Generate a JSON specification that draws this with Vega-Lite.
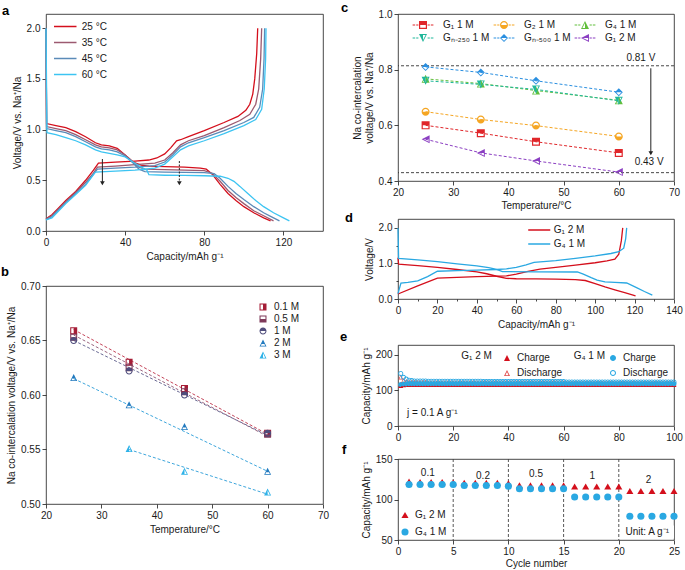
{
"$schema": "https://vega.github.io/schema/vega-lite/v6.json",
"background": "white",
"padding": {"left": 0, "top": 1, "right": 2, "bottom": 0},
"config": {
 "font": "Liberation Sans",
 "view": {"stroke": "#1a1a1a", "strokeWidth": 0.8},
 "axis": {"grid": false, "domain": false, "tickColor": "#1a1a1a", "tickSize": 4, "tickWidth": 0.8, "labelFontSize": 10, "titleFontSize": 10, "titleFontWeight": "normal", "labelColor": "#1a1a1a", "titleColor": "#1a1a1a", "labelPadding": 2, "titlePadding": 4, "labelFlush": false, "labelOverlap": false, "labelFont": "Liberation Sans", "titleFont": "Liberation Sans"},
 "legend": {"labelFontSize": 10, "labelFont": "Liberation Sans", "labelColor": "#1a1a1a", "orient": "none"},
 "title": {"fontSize": 13, "fontWeight": "bold", "anchor": "start", "frame": "group", "color": "#000", "font": "Liberation Sans"}
},
"datasets": {
 "a": [
  {"t":"25 °C","k":"d","x":0,"y":2.0},{"t":"25 °C","k":"d","x":0.3,"y":1.06},{"t":"25 °C","k":"d","x":5,"y":1.04},{"t":"25 °C","k":"d","x":10,"y":1.02},{"t":"25 °C","k":"d","x":15,"y":0.98},{"t":"25 °C","k":"d","x":20,"y":0.93},{"t":"25 °C","k":"d","x":25,"y":0.87},{"t":"25 °C","k":"d","x":28,"y":0.85},{"t":"25 °C","k":"d","x":32,"y":0.84},{"t":"25 °C","k":"d","x":36,"y":0.815},{"t":"25 °C","k":"d","x":40,"y":0.75},{"t":"25 °C","k":"d","x":44,"y":0.68},{"t":"25 °C","k":"d","x":48,"y":0.65},{"t":"25 °C","k":"d","x":52,"y":0.64},{"t":"25 °C","k":"d","x":60,"y":0.635},{"t":"25 °C","k":"d","x":70,"y":0.63},{"t":"25 °C","k":"d","x":78,"y":0.62},{"t":"25 °C","k":"d","x":81,"y":0.61},{"t":"25 °C","k":"d","x":84,"y":0.56},{"t":"25 °C","k":"d","x":88,"y":0.46},{"t":"25 °C","k":"d","x":92,"y":0.37},{"t":"25 °C","k":"d","x":96,"y":0.30},{"t":"25 °C","k":"d","x":100,"y":0.24},{"t":"25 °C","k":"d","x":105,"y":0.18},{"t":"25 °C","k":"d","x":110,"y":0.13},{"t":"25 °C","k":"d","x":113.5,"y":0.10},
  {"t":"25 °C","k":"c","x":0,"y":0.12},{"t":"25 °C","k":"c","x":3,"y":0.16},{"t":"25 °C","k":"c","x":6,"y":0.22},{"t":"25 °C","k":"c","x":10,"y":0.30},{"t":"25 °C","k":"c","x":15,"y":0.39},{"t":"25 °C","k":"c","x":20,"y":0.50},{"t":"25 °C","k":"c","x":24,"y":0.60},{"t":"25 °C","k":"c","x":26.5,"y":0.67},{"t":"25 °C","k":"c","x":35,"y":0.68},{"t":"25 °C","k":"c","x":45,"y":0.69},{"t":"25 °C","k":"c","x":52,"y":0.70},{"t":"25 °C","k":"c","x":56,"y":0.72},{"t":"25 °C","k":"c","x":60,"y":0.76},{"t":"25 °C","k":"c","x":63,"y":0.82},{"t":"25 °C","k":"c","x":66,"y":0.89},{"t":"25 °C","k":"c","x":68,"y":0.90},{"t":"25 °C","k":"c","x":72,"y":0.93},{"t":"25 °C","k":"c","x":80,"y":0.99},{"t":"25 °C","k":"c","x":90,"y":1.07},{"t":"25 °C","k":"c","x":97,"y":1.13},{"t":"25 °C","k":"c","x":101,"y":1.19},{"t":"25 °C","k":"c","x":103,"y":1.25},{"t":"25 °C","k":"c","x":104.5,"y":1.35},{"t":"25 °C","k":"c","x":105.5,"y":1.5},{"t":"25 °C","k":"c","x":106.5,"y":1.75},{"t":"25 °C","k":"c","x":107,"y":2.0},
  {"t":"35 °C","k":"d","x":0,"y":2.0},{"t":"35 °C","k":"d","x":0.3,"y":1.03},{"t":"35 °C","k":"d","x":5,"y":1.01},{"t":"35 °C","k":"d","x":10,"y":0.99},{"t":"35 °C","k":"d","x":15,"y":0.95},{"t":"35 °C","k":"d","x":20,"y":0.90},{"t":"35 °C","k":"d","x":25,"y":0.85},{"t":"35 °C","k":"d","x":28,"y":0.83},{"t":"35 °C","k":"d","x":32,"y":0.82},{"t":"35 °C","k":"d","x":36,"y":0.80},{"t":"35 °C","k":"d","x":40,"y":0.75},{"t":"35 °C","k":"d","x":44,"y":0.68},{"t":"35 °C","k":"d","x":47,"y":0.63},{"t":"35 °C","k":"d","x":50,"y":0.61},{"t":"35 °C","k":"d","x":60,"y":0.605},{"t":"35 °C","k":"d","x":70,"y":0.60},{"t":"35 °C","k":"d","x":80,"y":0.595},{"t":"35 °C","k":"d","x":84,"y":0.57},{"t":"35 °C","k":"d","x":88,"y":0.49},{"t":"35 °C","k":"d","x":92,"y":0.40},{"t":"35 °C","k":"d","x":96,"y":0.33},{"t":"35 °C","k":"d","x":100,"y":0.27},{"t":"35 °C","k":"d","x":105,"y":0.20},{"t":"35 °C","k":"d","x":110,"y":0.15},{"t":"35 °C","k":"d","x":115,"y":0.10},
  {"t":"35 °C","k":"c","x":0,"y":0.12},{"t":"35 °C","k":"c","x":3,"y":0.15},{"t":"35 °C","k":"c","x":6,"y":0.21},{"t":"35 °C","k":"c","x":10,"y":0.29},{"t":"35 °C","k":"c","x":15,"y":0.38},{"t":"35 °C","k":"c","x":20,"y":0.48},{"t":"35 °C","k":"c","x":24,"y":0.57},{"t":"35 °C","k":"c","x":26,"y":0.63},{"t":"35 °C","k":"c","x":35,"y":0.64},{"t":"35 °C","k":"c","x":45,"y":0.655},{"t":"35 °C","k":"c","x":55,"y":0.67},{"t":"35 °C","k":"c","x":60,"y":0.70},{"t":"35 °C","k":"c","x":64,"y":0.77},{"t":"35 °C","k":"c","x":68,"y":0.85},{"t":"35 °C","k":"c","x":72,"y":0.89},{"t":"35 °C","k":"c","x":80,"y":0.94},{"t":"35 °C","k":"c","x":90,"y":1.02},{"t":"35 °C","k":"c","x":98,"y":1.09},{"t":"35 °C","k":"c","x":103,"y":1.15},{"t":"35 °C","k":"c","x":106,"y":1.25},{"t":"35 °C","k":"c","x":107.5,"y":1.4},{"t":"35 °C","k":"c","x":108.5,"y":1.7},{"t":"35 °C","k":"c","x":109,"y":2.0},
  {"t":"45 °C","k":"d","x":0,"y":2.0},{"t":"45 °C","k":"d","x":0.3,"y":1.01},{"t":"45 °C","k":"d","x":5,"y":0.99},{"t":"45 °C","k":"d","x":10,"y":0.97},{"t":"45 °C","k":"d","x":15,"y":0.93},{"t":"45 °C","k":"d","x":20,"y":0.88},{"t":"45 °C","k":"d","x":25,"y":0.83},{"t":"45 °C","k":"d","x":28,"y":0.81},{"t":"45 °C","k":"d","x":32,"y":0.80},{"t":"45 °C","k":"d","x":36,"y":0.78},{"t":"45 °C","k":"d","x":40,"y":0.74},{"t":"45 °C","k":"d","x":44,"y":0.67},{"t":"45 °C","k":"d","x":47,"y":0.61},{"t":"45 °C","k":"d","x":50,"y":0.585},{"t":"45 °C","k":"d","x":60,"y":0.58},{"t":"45 °C","k":"d","x":70,"y":0.578},{"t":"45 °C","k":"d","x":80,"y":0.575},{"t":"45 °C","k":"d","x":85,"y":0.565},{"t":"45 °C","k":"d","x":88,"y":0.52},{"t":"45 °C","k":"d","x":92,"y":0.44},{"t":"45 °C","k":"d","x":96,"y":0.37},{"t":"45 °C","k":"d","x":100,"y":0.31},{"t":"45 °C","k":"d","x":105,"y":0.24},{"t":"45 °C","k":"d","x":110,"y":0.18},{"t":"45 °C","k":"d","x":114,"y":0.14},{"t":"45 °C","k":"d","x":118,"y":0.10},
  {"t":"45 °C","k":"c","x":0,"y":0.11},{"t":"45 °C","k":"c","x":3,"y":0.14},{"t":"45 °C","k":"c","x":6,"y":0.20},{"t":"45 °C","k":"c","x":10,"y":0.28},{"t":"45 °C","k":"c","x":15,"y":0.37},{"t":"45 °C","k":"c","x":20,"y":0.46},{"t":"45 °C","k":"c","x":24,"y":0.56},{"t":"45 °C","k":"c","x":26,"y":0.61},{"t":"45 °C","k":"c","x":35,"y":0.62},{"t":"45 °C","k":"c","x":45,"y":0.63},{"t":"45 °C","k":"c","x":55,"y":0.645},{"t":"45 °C","k":"c","x":60,"y":0.68},{"t":"45 °C","k":"c","x":64,"y":0.75},{"t":"45 °C","k":"c","x":68,"y":0.83},{"t":"45 °C","k":"c","x":72,"y":0.87},{"t":"45 °C","k":"c","x":80,"y":0.92},{"t":"45 °C","k":"c","x":90,"y":0.99},{"t":"45 °C","k":"c","x":100,"y":1.07},{"t":"45 °C","k":"c","x":105,"y":1.12},{"t":"45 °C","k":"c","x":108,"y":1.22},{"t":"45 °C","k":"c","x":109.5,"y":1.4},{"t":"45 °C","k":"c","x":110.2,"y":1.7},{"t":"45 °C","k":"c","x":110.5,"y":2.0},
  {"t":"60 °C","k":"d","x":0,"y":2.0},{"t":"60 °C","k":"d","x":0.5,"y":0.97},{"t":"60 °C","k":"d","x":5,"y":0.95},{"t":"60 °C","k":"d","x":10,"y":0.92},{"t":"60 °C","k":"d","x":15,"y":0.89},{"t":"60 °C","k":"d","x":20,"y":0.85},{"t":"60 °C","k":"d","x":25,"y":0.80},{"t":"60 °C","k":"d","x":28,"y":0.78},{"t":"60 °C","k":"d","x":32,"y":0.765},{"t":"60 °C","k":"d","x":36,"y":0.75},{"t":"60 °C","k":"d","x":40,"y":0.73},{"t":"60 °C","k":"d","x":44,"y":0.68},{"t":"60 °C","k":"d","x":48,"y":0.63},{"t":"60 °C","k":"d","x":51,"y":0.60},{"t":"60 °C","k":"d","x":52,"y":0.555},{"t":"60 °C","k":"d","x":60,"y":0.55},{"t":"60 °C","k":"d","x":70,"y":0.548},{"t":"60 °C","k":"d","x":80,"y":0.545},{"t":"60 °C","k":"d","x":88,"y":0.54},{"t":"60 °C","k":"d","x":92,"y":0.52},{"t":"60 °C","k":"d","x":95,"y":0.49},{"t":"60 °C","k":"d","x":98,"y":0.44},{"t":"60 °C","k":"d","x":102,"y":0.37},{"t":"60 °C","k":"d","x":106,"y":0.30},{"t":"60 °C","k":"d","x":110,"y":0.24},{"t":"60 °C","k":"d","x":115,"y":0.18},{"t":"60 °C","k":"d","x":120,"y":0.13},{"t":"60 °C","k":"d","x":123,"y":0.10},
  {"t":"60 °C","k":"c","x":0,"y":0.11},{"t":"60 °C","k":"c","x":3,"y":0.13},{"t":"60 °C","k":"c","x":6,"y":0.19},{"t":"60 °C","k":"c","x":10,"y":0.27},{"t":"60 °C","k":"c","x":15,"y":0.36},{"t":"60 °C","k":"c","x":20,"y":0.45},{"t":"60 °C","k":"c","x":23,"y":0.53},{"t":"60 °C","k":"c","x":25,"y":0.58},{"t":"60 °C","k":"c","x":35,"y":0.59},{"t":"60 °C","k":"c","x":45,"y":0.60},{"t":"60 °C","k":"c","x":55,"y":0.62},{"t":"60 °C","k":"c","x":60,"y":0.66},{"t":"60 °C","k":"c","x":64,"y":0.73},{"t":"60 °C","k":"c","x":68,"y":0.80},{"t":"60 °C","k":"c","x":72,"y":0.84},{"t":"60 °C","k":"c","x":80,"y":0.89},{"t":"60 °C","k":"c","x":90,"y":0.96},{"t":"60 °C","k":"c","x":100,"y":1.04},{"t":"60 °C","k":"c","x":106,"y":1.10},{"t":"60 °C","k":"c","x":109,"y":1.2},{"t":"60 °C","k":"c","x":110.3,"y":1.4},{"t":"60 °C","k":"c","x":111,"y":1.7},{"t":"60 °C","k":"c","x":111.2,"y":2.0}
 ],
 "aArrow": [{"x":28.5,"y1":0.71,"y2":0.47,"d":"s"},{"x":67.4,"y1":0.69,"y2":0.47,"d":"d"}],
 "b": [
  {"s":"0.1 M","x":25,"y":0.659},{"s":"0.1 M","x":35,"y":0.630},{"s":"0.1 M","x":45,"y":0.606},{"s":"0.1 M","x":60,"y":0.565},
  {"s":"0.5 M","x":25,"y":0.653},{"s":"0.5 M","x":35,"y":0.625},{"s":"0.5 M","x":45,"y":0.603},{"s":"0.5 M","x":60,"y":0.564},
  {"s":"1 M","x":25,"y":0.650},{"s":"1 M","x":35,"y":0.622},{"s":"1 M","x":45,"y":0.600},{"s":"1 M","x":60,"y":0.565},
  {"s":"2 M","x":25,"y":0.616},{"s":"2 M","x":35,"y":0.591},{"s":"2 M","x":45,"y":0.571},{"s":"2 M","x":60,"y":0.530},
  {"s":"3 M","x":35,"y":0.551},{"s":"3 M","x":45,"y":0.530},{"s":"3 M","x":60,"y":0.511}
 ],
 "bFit": [
  {"g":"0.1 M","x":25,"y":0.660},{"g":"0.1 M","x":60,"y":0.564},
  {"g":"0.5 M","x":25,"y":0.655},{"g":"0.5 M","x":60,"y":0.562},
  {"g":"1 M","x":25,"y":0.650},{"g":"1 M","x":60,"y":0.563},
  {"g":"2 M","x":25,"y":0.615},{"g":"2 M","x":60,"y":0.530},
  {"g":"3 M","x":35,"y":0.550},{"g":"3 M","x":60,"y":0.509}
 ],
 "c": [
  {"s":"G₁ 1 M","x":25,"y":0.600},{"s":"G₁ 1 M","x":35,"y":0.572},{"s":"G₁ 1 M","x":45,"y":0.541},{"s":"G₁ 1 M","x":60,"y":0.501},
  {"s":"G₂ 1 M","x":25,"y":0.649},{"s":"G₂ 1 M","x":35,"y":0.621},{"s":"G₂ 1 M","x":45,"y":0.599},{"s":"G₂ 1 M","x":60,"y":0.560},
  {"s":"G₄ 1 M","x":25,"y":0.767},{"s":"G₄ 1 M","x":35,"y":0.750},{"s":"G₄ 1 M","x":45,"y":0.725},{"s":"G₄ 1 M","x":60,"y":0.690},
  {"s":"Gₙ₋₂₅₀ 1 M","x":25,"y":0.760},{"s":"Gₙ₋₂₅₀ 1 M","x":35,"y":0.747},{"s":"Gₙ₋₂₅₀ 1 M","x":45,"y":0.729},{"s":"Gₙ₋₂₅₀ 1 M","x":60,"y":0.688},
  {"s":"Gₙ₋₅₀₀ 1 M","x":25,"y":0.810},{"s":"Gₙ₋₅₀₀ 1 M","x":35,"y":0.790},{"s":"Gₙ₋₅₀₀ 1 M","x":45,"y":0.760},{"s":"Gₙ₋₅₀₀ 1 M","x":60,"y":0.719},
  {"s":"G₁ 2 M","x":25,"y":0.550},{"s":"G₁ 2 M","x":35,"y":0.501},{"s":"G₁ 2 M","x":45,"y":0.472},{"s":"G₁ 2 M","x":60,"y":0.432}
 ],
 "cLine": [
  {"g":"G₁ 1 M","x":25,"y":0.600},{"g":"G₁ 1 M","x":35,"y":0.572},{"g":"G₁ 1 M","x":45,"y":0.541},{"g":"G₁ 1 M","x":60,"y":0.501},
  {"g":"G₂ 1 M","x":25,"y":0.649},{"g":"G₂ 1 M","x":35,"y":0.621},{"g":"G₂ 1 M","x":45,"y":0.599},{"g":"G₂ 1 M","x":60,"y":0.560},
  {"g":"G₄ 1 M","x":25,"y":0.767},{"g":"G₄ 1 M","x":35,"y":0.750},{"g":"G₄ 1 M","x":45,"y":0.725},{"g":"G₄ 1 M","x":60,"y":0.690},
  {"g":"Gₙ₋₂₅₀ 1 M","x":25,"y":0.760},{"g":"Gₙ₋₂₅₀ 1 M","x":35,"y":0.747},{"g":"Gₙ₋₂₅₀ 1 M","x":45,"y":0.729},{"g":"Gₙ₋₂₅₀ 1 M","x":60,"y":0.688},
  {"g":"Gₙ₋₅₀₀ 1 M","x":25,"y":0.810},{"g":"Gₙ₋₅₀₀ 1 M","x":35,"y":0.790},{"g":"Gₙ₋₅₀₀ 1 M","x":45,"y":0.760},{"g":"Gₙ₋₅₀₀ 1 M","x":60,"y":0.719},
  {"g":"G₁ 2 M","x":25,"y":0.550},{"g":"G₁ 2 M","x":35,"y":0.501},{"g":"G₁ 2 M","x":45,"y":0.472},{"g":"G₁ 2 M","x":60,"y":0.432}
 ],
 "cRef": [{"y":0.814},{"y":0.430}],
 "cText": [{"x":64,"y":0.842,"t":"0.81 V"},{"x":65.5,"y":0.468,"t":"0.43 V"}],
 "cArrow": [{"x":65.8,"y1":0.805,"y2":0.50}],
 "d": [
  {"s":"G₁ 2 M","k":"d","x":0,"y":1.16},{"s":"G₁ 2 M","k":"d","x":0.3,"y":0.98},{"s":"G₁ 2 M","k":"d","x":5,"y":0.96},{"s":"G₁ 2 M","k":"d","x":10,"y":0.94},{"s":"G₁ 2 M","k":"d","x":20,"y":0.89},{"s":"G₁ 2 M","k":"d","x":30,"y":0.83},{"s":"G₁ 2 M","k":"d","x":40,"y":0.76},{"s":"G₁ 2 M","k":"d","x":45,"y":0.71},{"s":"G₁ 2 M","k":"d","x":50,"y":0.64},{"s":"G₁ 2 M","k":"d","x":55,"y":0.58},{"s":"G₁ 2 M","k":"d","x":60,"y":0.57},{"s":"G₁ 2 M","k":"d","x":70,"y":0.565},{"s":"G₁ 2 M","k":"d","x":80,"y":0.56},{"s":"G₁ 2 M","k":"d","x":90,"y":0.545},{"s":"G₁ 2 M","k":"d","x":95,"y":0.52},{"s":"G₁ 2 M","k":"d","x":100,"y":0.43},{"s":"G₁ 2 M","k":"d","x":105,"y":0.34},{"s":"G₁ 2 M","k":"d","x":110,"y":0.26},{"s":"G₁ 2 M","k":"d","x":115,"y":0.18},{"s":"G₁ 2 M","k":"d","x":120.5,"y":0.09},
  {"s":"G₁ 2 M","k":"c","x":0,"y":0.14},{"s":"G₁ 2 M","k":"c","x":10,"y":0.37},{"s":"G₁ 2 M","k":"c","x":20,"y":0.59},{"s":"G₁ 2 M","k":"c","x":30,"y":0.61},{"s":"G₁ 2 M","k":"c","x":40,"y":0.63},{"s":"G₁ 2 M","k":"c","x":55,"y":0.65},{"s":"G₁ 2 M","k":"c","x":60,"y":0.70},{"s":"G₁ 2 M","k":"c","x":66,"y":0.78},{"s":"G₁ 2 M","k":"c","x":72,"y":0.84},{"s":"G₁ 2 M","k":"c","x":80,"y":0.89},{"s":"G₁ 2 M","k":"c","x":90,"y":0.95},{"s":"G₁ 2 M","k":"c","x":100,"y":1.02},{"s":"G₁ 2 M","k":"c","x":106,"y":1.07},{"s":"G₁ 2 M","k":"c","x":110,"y":1.12},{"s":"G₁ 2 M","k":"c","x":112,"y":1.26},{"s":"G₁ 2 M","k":"c","x":113.3,"y":1.64},{"s":"G₁ 2 M","k":"c","x":114,"y":2.0},
  {"s":"G₄ 1 M","k":"d","x":0,"y":2.0},{"s":"G₄ 1 M","k":"d","x":0.3,"y":1.14},{"s":"G₄ 1 M","k":"d","x":10,"y":1.10},{"s":"G₄ 1 M","k":"d","x":20,"y":1.05},{"s":"G₄ 1 M","k":"d","x":30,"y":0.99},{"s":"G₄ 1 M","k":"d","x":40,"y":0.93},{"s":"G₄ 1 M","k":"d","x":46,"y":0.88},{"s":"G₄ 1 M","k":"d","x":50,"y":0.83},{"s":"G₄ 1 M","k":"d","x":53,"y":0.77},{"s":"G₄ 1 M","k":"d","x":70,"y":0.765},{"s":"G₄ 1 M","k":"d","x":91,"y":0.76},{"s":"G₄ 1 M","k":"d","x":94,"y":0.70},{"s":"G₄ 1 M","k":"d","x":98,"y":0.60},{"s":"G₄ 1 M","k":"d","x":101,"y":0.53},{"s":"G₄ 1 M","k":"d","x":105,"y":0.48},{"s":"G₄ 1 M","k":"d","x":110,"y":0.465},{"s":"G₄ 1 M","k":"d","x":116,"y":0.45},{"s":"G₄ 1 M","k":"d","x":121,"y":0.32},{"s":"G₄ 1 M","k":"d","x":125,"y":0.21},{"s":"G₄ 1 M","k":"d","x":129,"y":0.11},
  {"s":"G₄ 1 M","k":"c","x":0,"y":0.15},{"s":"G₄ 1 M","k":"c","x":1.5,"y":0.45},{"s":"G₄ 1 M","k":"c","x":5,"y":0.47},{"s":"G₄ 1 M","k":"c","x":10,"y":0.51},{"s":"G₄ 1 M","k":"c","x":15,"y":0.63},{"s":"G₄ 1 M","k":"c","x":20,"y":0.78},{"s":"G₄ 1 M","k":"c","x":30,"y":0.80},{"s":"G₄ 1 M","k":"c","x":40,"y":0.81},{"s":"G₄ 1 M","k":"c","x":50,"y":0.83},{"s":"G₄ 1 M","k":"c","x":55,"y":0.85},{"s":"G₄ 1 M","k":"c","x":60,"y":0.89},{"s":"G₄ 1 M","k":"c","x":65,"y":0.96},{"s":"G₄ 1 M","k":"c","x":69,"y":1.03},{"s":"G₄ 1 M","k":"c","x":80,"y":1.08},{"s":"G₄ 1 M","k":"c","x":90,"y":1.14},{"s":"G₄ 1 M","k":"c","x":100,"y":1.21},{"s":"G₄ 1 M","k":"c","x":108,"y":1.28},{"s":"G₄ 1 M","k":"c","x":112,"y":1.33},{"s":"G₄ 1 M","k":"c","x":114.5,"y":1.43},{"s":"G₄ 1 M","k":"c","x":115.5,"y":1.7},{"s":"G₄ 1 M","k":"c","x":116,"y":2.0}
 ],
 "e": [
  {"c":1,"a":114,"b":138,"p":117,"q":148},{"c":2,"a":116,"b":128,"p":118,"q":137},{"c":3,"a":117,"b":125,"p":118,"q":132},{"c":4,"a":117,"b":124,"p":119,"q":129},{"c":5,"a":117,"b":123,"p":119,"q":128},
  {"c":6,"a":117,"b":123,"p":119,"q":127},{"c":7,"a":117,"b":123,"p":119,"q":127},{"c":8,"a":117,"b":123,"p":119,"q":127},{"c":9,"a":117,"b":123,"p":119,"q":127},{"c":10,"a":117,"b":123,"p":119,"q":127},
  {"c":11,"a":117,"b":122,"p":119,"q":126},{"c":12,"a":117,"b":122,"p":119,"q":126},{"c":13,"a":117,"b":122,"p":119,"q":126},{"c":14,"a":117,"b":122,"p":119,"q":126},{"c":15,"a":117,"b":122,"p":119,"q":126},
  {"c":16,"a":117,"b":122,"p":119,"q":126},{"c":17,"a":117,"b":122,"p":119,"q":126},{"c":18,"a":117,"b":122,"p":119,"q":126},{"c":19,"a":117,"b":122,"p":119,"q":126},{"c":20,"a":117,"b":122,"p":119,"q":126},
  {"c":21,"a":117,"b":122,"p":119,"q":126},{"c":22,"a":117,"b":122,"p":119,"q":126},{"c":23,"a":117,"b":122,"p":119,"q":126},{"c":24,"a":117,"b":122,"p":119,"q":126},{"c":25,"a":117,"b":122,"p":119,"q":126},
  {"c":26,"a":117,"b":122,"p":119,"q":126},{"c":27,"a":117,"b":122,"p":119,"q":126},{"c":28,"a":117,"b":122,"p":119,"q":126},{"c":29,"a":117,"b":122,"p":119,"q":126},{"c":30,"a":117,"b":122,"p":119,"q":126},
  {"c":31,"a":117,"b":122,"p":119,"q":125},{"c":32,"a":117,"b":122,"p":119,"q":125},{"c":33,"a":117,"b":122,"p":119,"q":125},{"c":34,"a":117,"b":122,"p":119,"q":125},{"c":35,"a":117,"b":122,"p":119,"q":125},
  {"c":36,"a":117,"b":122,"p":119,"q":125},{"c":37,"a":117,"b":122,"p":119,"q":125},{"c":38,"a":117,"b":122,"p":119,"q":125},{"c":39,"a":117,"b":122,"p":119,"q":125},{"c":40,"a":117,"b":122,"p":119,"q":125},
  {"c":41,"a":117,"b":122,"p":119,"q":125},{"c":42,"a":117,"b":122,"p":119,"q":125},{"c":43,"a":117,"b":122,"p":119,"q":125},{"c":44,"a":117,"b":122,"p":119,"q":125},{"c":45,"a":117,"b":122,"p":119,"q":125},
  {"c":46,"a":117,"b":122,"p":119,"q":125},{"c":47,"a":117,"b":122,"p":119,"q":125},{"c":48,"a":117,"b":122,"p":119,"q":125},{"c":49,"a":117,"b":122,"p":119,"q":125},{"c":50,"a":117,"b":122,"p":119,"q":125},
  {"c":51,"a":117,"b":122,"p":119,"q":125},{"c":52,"a":117,"b":122,"p":119,"q":125},{"c":53,"a":117,"b":122,"p":119,"q":125},{"c":54,"a":117,"b":122,"p":119,"q":125},{"c":55,"a":117,"b":122,"p":119,"q":125},
  {"c":56,"a":117,"b":122,"p":119,"q":125},{"c":57,"a":117,"b":122,"p":119,"q":125},{"c":58,"a":117,"b":122,"p":119,"q":125},{"c":59,"a":117,"b":122,"p":119,"q":125},{"c":60,"a":117,"b":122,"p":119,"q":125},
  {"c":61,"a":117,"b":121,"p":119,"q":124},{"c":62,"a":117,"b":121,"p":119,"q":124},{"c":63,"a":117,"b":121,"p":119,"q":124},{"c":64,"a":117,"b":121,"p":119,"q":124},{"c":65,"a":117,"b":121,"p":119,"q":124},
  {"c":66,"a":117,"b":121,"p":119,"q":124},{"c":67,"a":117,"b":121,"p":119,"q":124},{"c":68,"a":117,"b":121,"p":119,"q":124},{"c":69,"a":117,"b":121,"p":119,"q":124},{"c":70,"a":117,"b":121,"p":119,"q":124},
  {"c":71,"a":117,"b":121,"p":119,"q":124},{"c":72,"a":117,"b":121,"p":119,"q":124},{"c":73,"a":117,"b":121,"p":119,"q":124},{"c":74,"a":117,"b":121,"p":119,"q":124},{"c":75,"a":117,"b":121,"p":119,"q":124},
  {"c":76,"a":117,"b":121,"p":119,"q":124},{"c":77,"a":117,"b":121,"p":119,"q":124},{"c":78,"a":117,"b":121,"p":119,"q":124},{"c":79,"a":117,"b":121,"p":119,"q":124},{"c":80,"a":117,"b":121,"p":119,"q":124},
  {"c":81,"a":117,"b":121,"p":119,"q":124},{"c":82,"a":117,"b":121,"p":119,"q":124},{"c":83,"a":117,"b":121,"p":119,"q":124},{"c":84,"a":117,"b":121,"p":119,"q":124},{"c":85,"a":117,"b":121,"p":119,"q":124},
  {"c":86,"a":117,"b":121,"p":119,"q":124},{"c":87,"a":117,"b":121,"p":119,"q":124},{"c":88,"a":117,"b":121,"p":119,"q":124},{"c":89,"a":117,"b":121,"p":119,"q":124},{"c":90,"a":117,"b":121,"p":119,"q":124},
  {"c":91,"a":117,"b":121,"p":119,"q":124},{"c":92,"a":117,"b":121,"p":119,"q":124},{"c":93,"a":117,"b":121,"p":119,"q":124},{"c":94,"a":117,"b":121,"p":119,"q":124},{"c":95,"a":117,"b":121,"p":119,"q":124},
  {"c":96,"a":117,"b":121,"p":119,"q":124},{"c":97,"a":117,"b":121,"p":119,"q":124},{"c":98,"a":117,"b":121,"p":119,"q":124},{"c":99,"a":117,"b":121,"p":119,"q":124},{"c":100,"a":117,"b":121,"p":119,"q":124}
 ],
 "eText": [{"x":34,"y":197,"t":"G₁ 2 M"},{"x":75,"y":197,"t":"G₄ 1 M"}],
 "eNote": [{"x":3.3,"y":36,"t":"j = 0.1 A g⁻¹"}],
 "f": [
  {"n":1,"s":"G₁  2 M","v":122},{"n":2,"s":"G₁  2 M","v":121.5},{"n":3,"s":"G₁  2 M","v":121.5},{"n":4,"s":"G₁  2 M","v":121.5},{"n":5,"s":"G₁  2 M","v":121},
  {"n":6,"s":"G₁  2 M","v":120.5},{"n":7,"s":"G₁  2 M","v":120.5},{"n":8,"s":"G₁  2 M","v":120.5},{"n":9,"s":"G₁  2 M","v":120.5},{"n":10,"s":"G₁  2 M","v":120},
  {"n":11,"s":"G₁  2 M","v":117.5},{"n":12,"s":"G₁  2 M","v":117.5},{"n":13,"s":"G₁  2 M","v":117.5},{"n":14,"s":"G₁  2 M","v":117.5},{"n":15,"s":"G₁  2 M","v":117.5},
  {"n":16,"s":"G₁  2 M","v":116},{"n":17,"s":"G₁  2 M","v":116},{"n":18,"s":"G₁  2 M","v":116},{"n":19,"s":"G₁  2 M","v":116},{"n":20,"s":"G₁  2 M","v":116},
  {"n":21,"s":"G₁  2 M","v":110.5},{"n":22,"s":"G₁  2 M","v":110.5},{"n":23,"s":"G₁  2 M","v":110.5},{"n":24,"s":"G₁  2 M","v":110.5},{"n":25,"s":"G₁  2 M","v":110.5},
  {"n":1,"s":"G₄  1 M","v":118.6},{"n":2,"s":"G₄  1 M","v":118.6},{"n":3,"s":"G₄  1 M","v":118.6},{"n":4,"s":"G₄  1 M","v":118.6},{"n":5,"s":"G₄  1 M","v":118.6},
  {"n":6,"s":"G₄  1 M","v":117.2},{"n":7,"s":"G₄  1 M","v":117.2},{"n":8,"s":"G₄  1 M","v":117.2},{"n":9,"s":"G₄  1 M","v":117.2},{"n":10,"s":"G₄  1 M","v":116.5},
  {"n":11,"s":"G₄  1 M","v":113.3},{"n":12,"s":"G₄  1 M","v":113.3},{"n":13,"s":"G₄  1 M","v":113.3},{"n":14,"s":"G₄  1 M","v":113.3},{"n":15,"s":"G₄  1 M","v":113.3},
  {"n":16,"s":"G₄  1 M","v":103},{"n":17,"s":"G₄  1 M","v":103},{"n":18,"s":"G₄  1 M","v":103},{"n":19,"s":"G₄  1 M","v":103},{"n":20,"s":"G₄  1 M","v":103},
  {"n":21,"s":"G₄  1 M","v":79.3},{"n":22,"s":"G₄  1 M","v":79.3},{"n":23,"s":"G₄  1 M","v":79.3},{"n":24,"s":"G₄  1 M","v":79.3},{"n":25,"s":"G₄  1 M","v":79.3}
 ],
 "fRule": [{"x":5},{"x":10},{"x":15},{"x":20}],
 "fRate": [{"x":2.7,"y":132.5,"t":"0.1"},{"x":7.7,"y":129.5,"t":"0.2"},{"x":12.5,"y":131.5,"t":"0.5"},{"x":17.6,"y":129.5,"t":"1"},{"x":22.7,"y":123.5,"t":"2"}],
 "fBox": [{"x":20.25,"x2":25,"y":52,"y2":68}],
 "fUnit": [{"x":20.6,"y":59.5,"t":"Unit: A g⁻¹"}]
},
"resolve": {"scale": {"color": "independent", "shape": "independent", "stroke": "independent", "strokeDash": "independent"}, "legend": {"color": "independent", "shape": "independent", "stroke": "independent", "strokeDash": "independent"}},
"hconcat": [
 {"resolve": {"scale": {"color": "independent", "shape": "independent", "stroke": "independent", "strokeDash": "independent"}, "legend": {"color": "independent", "shape": "independent", "stroke": "independent", "strokeDash": "independent"}},
  "vconcat": [
  {"title": {"text": "a", "dx": -44, "offset": -4},
   "width": 277, "height": 217,
   "layer": [
    {"data": {"name": "a"}, "mark": {"type": "line", "strokeWidth": 1.3},
     "encoding": {
      "x": {"field": "x", "type": "quantitative", "scale": {"domain": [0,140], "nice": false, "zero": false}, "axis": {"values": [0,10,20,30,40,50,60,70,80,90,100,110,120,130,140], "labelExpr": "datum.value % 20 != 0 ? '' : datum.label", "tickSize": {"condition": {"test": "datum.value % 20 != 0", "value": 2}, "value": 4}, "title": "Capacity/mAh g⁻¹"}},
      "y": {"field": "y", "type": "quantitative", "scale": {"domain": [0,2.14], "nice": false, "zero": false}, "axis": {"values": [0,0.25,0.5,0.75,1,1.25,1.5,1.75,2], "format": ".1f", "labelExpr": "abs(datum.value*2 - round(datum.value*2)) > 0.01 ? '' : datum.label", "tickSize": {"condition": {"test": "abs(datum.value*2 - round(datum.value*2)) > 0.01", "value": 2}, "value": 4}, "title": "Voltage/V vs. Na⁺/Na"}},
      "color": {"field": "t", "type": "nominal", "scale": {"domain": ["25 °C","35 °C","45 °C","60 °C"], "range": ["#d40f1c","#9c5a70","#5b8bb8","#3cc4f2"]}, "legend": {"title": null, "legendX": 10.75, "legendY": 4, "symbolType": "M-1.5,0H1.5", "symbolSize": 225, "symbolStrokeWidth": 1.5, "labelOffset": 8, "rowPadding": 2}},
      "detail": {"field": "k", "type": "nominal"}
     }},
    {"data": {"name": "aArrow"}, "mark": {"type": "rule", "color": "#222", "strokeWidth": 1},
     "encoding": {"x": {"field": "x", "type": "quantitative"}, "y": {"field": "y1", "type": "quantitative"}, "y2": {"field": "y2"},
      "strokeDash": {"field": "d", "type": "nominal", "scale": {"domain": ["s","d"], "range": [[1,0],[2,1.5]]}, "legend": null}}},
    {"data": {"name": "aArrow"}, "mark": {"type": "point", "shape": "triangle-down", "filled": true, "color": "#222", "size": 22, "opacity": 1},
     "encoding": {"x": {"field": "x", "type": "quantitative"}, "y": {"field": "y2", "type": "quantitative"}}}
   ]},
  {"title": {"text": "b", "dx": -45, "offset": 2},
   "width": 277, "height": 218,
   "layer": [
    {"data": {"name": "bFit"}, "mark": {"type": "line", "strokeWidth": 1, "strokeDash": [3,2]},
     "encoding": {
      "x": {"field": "x", "type": "quantitative", "scale": {"domain": [20,70], "nice": false, "zero": false}, "axis": {"values": [20,25,30,35,40,45,50,55,60,65,70], "labelExpr": "datum.value % 10 != 0 ? '' : datum.label", "tickSize": {"condition": {"test": "datum.value % 10 != 0", "value": 2}, "value": 4}, "title": "Temperature/°C"}},
      "y": {"field": "y", "type": "quantitative", "scale": {"domain": [0.5,0.7], "nice": false, "zero": false}, "axis": {"values": [0.5,0.525,0.55,0.575,0.6,0.625,0.65,0.675,0.7], "format": ".2f", "labelExpr": "abs(datum.value*20 - round(datum.value*20)) > 0.01 ? '' : datum.label", "tickSize": {"condition": {"test": "abs(datum.value*20 - round(datum.value*20)) > 0.01", "value": 2}, "value": 4}, "title": "Na co-intercalation voltage/V vs. Na⁺/Na"}},
      "stroke": {"field": "g", "type": "nominal", "scale": {"domain": ["3 M","2 M","1 M","0.5 M","0.1 M"], "range": ["#3ea6dc","#3ea6dc","#6a6a94","#9a6680","#c4455a"]}, "legend": null}
     }},
    {"data": {"name": "b"}, "mark": {"type": "point", "filled": true, "size": 49, "opacity": 1},
     "encoding": {
      "x": {"field": "x", "type": "quantitative"},
      "y": {"field": "y", "type": "quantitative"},
      "color": {"field": "s", "type": "nominal", "scale": {"domain": ["0.1 M","0.5 M","1 M","2 M","3 M"], "range": ["#a51d36","#7e3a5a","#4f4d7c","#1f78be","#2eb2e8"]}, "legend": {"title": null, "legendX": 212, "legendY": 16, "symbolSize": 49, "labelOffset": 6, "rowPadding": 2}},
      "shape": {"field": "s", "type": "nominal", "scale": {"domain": ["0.1 M","0.5 M","1 M","2 M","3 M"], "range": [
        "M-1,-1H1V1H-1Z M-0.7,-0.7V0.7H0.7V-0.7Z M0,-0.7H0.7V0.7H0Z",
        "M-1,-1H1V1H-1Z M-0.7,-0.7V0.7H0.7V-0.7Z M-0.7,0H0.7V0.7H-0.7Z",
        "M-1,0A1,1,0,1,1,1,0A1,1,0,1,1,-1,0Z M-0.7,0A0.7,0.7,0,1,0,0.7,0A0.7,0.7,0,1,0,-0.7,0Z M-0.7,0A0.7,0.7,0,0,1,0.7,0Z",
        "M0,-1L1,1H-1Z M0,-0.51L-0.645,0.78H0.645Z M0,-0.51L0.38,0.25H-0.38Z",
        "M0,-1L1,1H-1Z M0,-0.51L-0.645,0.78H0.645Z M0,-0.51V0.78H-0.645Z"
      ]}}
     }}
   ]}
 ], "spacing": 3},
 {"resolve": {"scale": {"color": "independent", "shape": "independent", "stroke": "independent", "strokeDash": "independent"}, "legend": {"color": "independent", "shape": "independent", "stroke": "independent", "strokeDash": "independent"}},
  "vconcat": [
  {"title": {"text": "c", "dx": -57, "offset": -6},
   "width": 276, "height": 167,
   "resolve": {"scale": {"color": "independent", "shape": "independent"}, "legend": {"color": "independent", "shape": "independent"}},
   "layer": [
    {"data": {"name": "cRef"}, "mark": {"type": "rule", "color": "#333", "strokeWidth": 0.9, "strokeDash": [3,2]},
     "encoding": {"y": {"field": "y", "type": "quantitative"}}},
    {"data": {"name": "cLine"}, "mark": {"type": "line", "strokeWidth": 1, "strokeDash": [3,2]},
     "encoding": {
      "x": {"field": "x", "type": "quantitative", "scale": {"domain": [20,70], "nice": false, "zero": false}, "axis": {"values": [20,25,30,35,40,45,50,55,60,65,70], "labelExpr": "datum.value % 10 != 0 ? '' : datum.label", "tickSize": {"condition": {"test": "datum.value % 10 != 0", "value": 2}, "value": 4}, "title": "Temperature/°C", "titlePadding": 3}},
      "y": {"field": "y", "type": "quantitative", "scale": {"domain": [0.4,1.0], "nice": false, "zero": false}, "axis": {"values": [0.4,0.45,0.5,0.55,0.6,0.65,0.7,0.75,0.8,0.85,0.9,0.95,1.0], "format": ".1f", "labelExpr": "abs(datum.value*10 - round(datum.value*10)) > 0.01 ? '' : datum.label", "tickSize": {"condition": {"test": "abs(datum.value*10 - round(datum.value*10)) > 0.01", "value": 2}, "value": 4}, "title": ["Na co-intercalation","voltage/V vs. Na⁺/Na"]}},
      "stroke": {"field": "g", "type": "nominal", "scale": {"domain": ["G₁ 1 M","G₂ 1 M","G₄ 1 M","Gₙ₋₂₅₀ 1 M","Gₙ₋₅₀₀ 1 M","G₁ 2 M"], "range": ["#e0262a","#f5a623","#62bf3c","#1fb79a","#2a8fe0","#8b3fc2"]}, "legend": null}
     }},
    {"data": {"name": "c"}, "mark": {"type": "point", "filled": true, "size": 64, "opacity": 1},
     "encoding": {
      "x": {"field": "x", "type": "quantitative"},
      "y": {"field": "y", "type": "quantitative"},
      "color": {"field": "s", "type": "nominal", "scale": {"domain": ["G₁ 1 M","G₂ 1 M","G₄ 1 M","Gₙ₋₂₅₀ 1 M","Gₙ₋₅₀₀ 1 M","G₁ 2 M"], "range": ["#e0262a","#f5a623","#62bf3c","#1fb79a","#2a8fe0","#8b3fc2"]}, "legend": null},
      "shape": {"field": "s", "type": "nominal", "scale": {"domain": ["G₁ 1 M","G₂ 1 M","G₄ 1 M","Gₙ₋₂₅₀ 1 M","Gₙ₋₅₀₀ 1 M","G₁ 2 M"], "range": [
        "M-1,-1H1V1H-1Z M-0.7,-0.7V0.7H0.7V-0.7Z M-0.7,-0.7H0.7V0H-0.7Z",
        "M-1,0A1,1,0,1,1,1,0A1,1,0,1,1,-1,0Z M-0.7,0A0.7,0.7,0,1,0,0.7,0A0.7,0.7,0,1,0,-0.7,0Z M0.7,0A0.7,0.7,0,0,1,-0.7,0Z",
        "M0,-1L1,1H-1Z M0,-0.51L-0.645,0.78H0.645Z M0,-0.51L0.645,0.78H0Z",
        "M-1,-1H1L0,1Z M-0.645,-0.78L0,0.51L0.645,-0.78Z M-0.645,-0.78H0V0.51Z",
        "M0,-1L1,0L0,1L-1,0Z M0,-0.7L-0.7,0L0,0.7L0.7,0Z M-0.7,0L0,-0.7L0.7,0Z",
        "M-1,0L1,-1V1Z M-0.51,0L0.78,0.645V-0.645Z M-0.51,0L0.78,-0.645V0Z"
      ]}, "legend": null}
     }},
    {"data": {"name": "c"}, "transform": [{"filter": "false"}], "mark": {"type": "point", "filled": true, "size": 64, "opacity": 1},
     "encoding": {
      "x": {"field": "x", "type": "quantitative"},
      "y": {"field": "y", "type": "quantitative"},
      "color": {"field": "s", "type": "nominal", "scale": {"domain": ["G₁ 1 M","Gₙ₋₂₅₀ 1 M","G₂ 1 M","Gₙ₋₅₀₀ 1 M","G₄ 1 M","G₁ 2 M"], "range": ["#e0262a","#1fb79a","#f5a623","#2a8fe0","#62bf3c","#8b3fc2"]},
       "legend": {"title": null, "columns": 3, "legendX": 20, "legendY": 6, "symbolSize": 64, "labelOffset": 15, "rowPadding": 3, "columnPadding": 3}},
      "shape": {"field": "s", "type": "nominal", "scale": {"domain": ["G₁ 1 M","Gₙ₋₂₅₀ 1 M","G₂ 1 M","Gₙ₋₅₀₀ 1 M","G₄ 1 M","G₁ 2 M"], "range": [
        "M-2.6,-0.13H-1.95V0.13H-2.6Z M-1.7,-0.13H-1.15V0.13H-1.7Z M1.15,-0.13H1.7V0.13H1.15Z M1.95,-0.13H2.6V0.13H1.95Z M-1,-1H1V1H-1Z M-0.7,-0.7V0.7H0.7V-0.7Z M-0.7,-0.7H0.7V0H-0.7Z",
        "M-2.6,-0.13H-1.95V0.13H-2.6Z M-1.7,-0.13H-1.15V0.13H-1.7Z M1.15,-0.13H1.7V0.13H1.15Z M1.95,-0.13H2.6V0.13H1.95Z M-1,-1H1L0,1Z M-0.645,-0.78L0,0.51L0.645,-0.78Z M-0.645,-0.78H0V0.51Z",
        "M-2.6,-0.13H-1.95V0.13H-2.6Z M-1.7,-0.13H-1.15V0.13H-1.7Z M1.15,-0.13H1.7V0.13H1.15Z M1.95,-0.13H2.6V0.13H1.95Z M-1,0A1,1,0,1,1,1,0A1,1,0,1,1,-1,0Z M-0.7,0A0.7,0.7,0,1,0,0.7,0A0.7,0.7,0,1,0,-0.7,0Z M0.7,0A0.7,0.7,0,0,1,-0.7,0Z",
        "M-2.6,-0.13H-1.95V0.13H-2.6Z M-1.7,-0.13H-1.15V0.13H-1.7Z M1.15,-0.13H1.7V0.13H1.15Z M1.95,-0.13H2.6V0.13H1.95Z M0,-1L1,0L0,1L-1,0Z M0,-0.7L-0.7,0L0,0.7L0.7,0Z M-0.7,0L0,-0.7L0.7,0Z",
        "M-2.6,-0.13H-1.95V0.13H-2.6Z M-1.7,-0.13H-1.15V0.13H-1.7Z M1.15,-0.13H1.7V0.13H1.15Z M1.95,-0.13H2.6V0.13H1.95Z M0,-1L1,1H-1Z M0,-0.51L-0.645,0.78H0.645Z M0,-0.51L0.645,0.78H0Z",
        "M-2.6,-0.13H-1.95V0.13H-2.6Z M-1.7,-0.13H-1.15V0.13H-1.7Z M1.15,-0.13H1.7V0.13H1.15Z M1.95,-0.13H2.6V0.13H1.95Z M-1,0L1,-1V1Z M-0.51,0L0.78,0.645V-0.645Z M-0.51,0L0.78,-0.645V0Z"
      ]}}
     }},
    {"data": {"name": "cText"}, "mark": {"type": "text", "fontSize": 10, "align": "center", "baseline": "middle", "color": "#1a1a1a"},
     "encoding": {"x": {"field": "x", "type": "quantitative"}, "y": {"field": "y", "type": "quantitative"}, "text": {"field": "t"}}},
    {"data": {"name": "cArrow"}, "mark": {"type": "rule", "color": "#222", "strokeWidth": 1},
     "encoding": {"x": {"field": "x", "type": "quantitative"}, "y": {"field": "y1", "type": "quantitative"}, "y2": {"field": "y2"}}},
    {"data": {"name": "cArrow"}, "mark": {"type": "point", "shape": "triangle-down", "filled": true, "color": "#222", "size": 22, "opacity": 1},
     "encoding": {"x": {"field": "x", "type": "quantitative"}, "y": {"field": "y2", "type": "quantitative"}}}
   ]},
  {"title": {"text": "d", "dx": -53, "offset": -6},
   "width": 276, "height": 80,
   "data": {"name": "d"},
   "mark": {"type": "line", "strokeWidth": 1.3},
   "encoding": {
    "x": {"field": "x", "type": "quantitative", "scale": {"domain": [0,140], "nice": false, "zero": false}, "axis": {"values": [0,10,20,30,40,50,60,70,80,90,100,110,120,130,140], "labelExpr": "datum.value % 20 != 0 ? '' : datum.label", "tickSize": {"condition": {"test": "datum.value % 20 != 0", "value": 2}, "value": 4}, "title": "Capacity/mAh g⁻¹"}},
    "y": {"field": "y", "type": "quantitative", "scale": {"domain": [0,2.25], "nice": false, "zero": false}, "axis": {"values": [0,0.5,1,1.5,2], "labelExpr": "datum.value % 1 != 0 ? '' : datum.label", "tickSize": {"condition": {"test": "datum.value % 1 != 0", "value": 2}, "value": 4}, "title": "Voltage/V"}},
    "color": {"field": "s", "type": "nominal", "scale": {"domain": ["G₁ 2 M","G₄ 1 M"], "range": ["#d40f1c","#2aa8e2"]}, "legend": {"title": null, "legendX": 132.75, "legendY": 2.5, "symbolType": "M-1.47,0H1.47", "symbolSize": 225, "symbolStrokeWidth": 1.5, "labelOffset": 6, "rowPadding": 0}},
    "detail": {"field": "k", "type": "nominal"}
   }},
  {"title": {"text": "e", "dx": -58, "offset": 1},
   "width": 276, "height": 81,
   "layer": [
    {"data": {"name": "e"}, "transform": [{"fold": ["a","b","p","q"], "as": ["s","v"]}],
     "mark": {"type": "point", "filled": true, "size": 25, "opacity": 1},
     "encoding": {
      "x": {"field": "c", "type": "quantitative", "scale": {"domain": [0,100], "nice": false, "zero": false}, "axis": {"values": [0,10,20,30,40,50,60,70,80,90,100], "labelExpr": "datum.value % 20 != 0 ? '' : datum.label", "tickSize": {"condition": {"test": "datum.value % 20 != 0", "value": 2}, "value": 4}, "title": null}},
      "y": {"field": "v", "type": "quantitative", "scale": {"domain": [0,228], "nice": false, "zero": false}, "axis": {"values": [0,50,100,150,200], "labelExpr": "datum.value % 100 != 0 ? '' : datum.label", "tickSize": {"condition": {"test": "datum.value % 100 != 0", "value": 2}, "value": 4}, "title": "Capacity/mAh g⁻¹"}},
      "color": {"field": "s", "type": "nominal", "scale": {"domain": ["a","b","p","q"], "range": ["#d40f1c","#e04a4a","#2aa8e2","#2aa8e2"]},
       "legend": {"title": null, "columns": 2, "legendX": 104, "legendY": 8, "symbolSize": 36, "labelOffset": 5, "rowPadding": 5, "columnPadding": 45, "labelExpr": "datum.value === 'a' || datum.value === 'p' ? 'Charge' : 'Discharge'"}},
      "shape": {"field": "s", "type": "nominal", "scale": {"domain": ["a","b","p","q"], "range": [
        "M0,-1L1,1H-1Z",
        "M0,-1L1,1H-1Z M0,-0.37L-0.545,0.72H0.545Z",
        "M-1,0A1,1,0,1,1,1,0A1,1,0,1,1,-1,0Z",
        "M-1,0A1,1,0,1,1,1,0A1,1,0,1,1,-1,0Z M-0.65,0A0.65,0.65,0,1,0,0.65,0A0.65,0.65,0,1,0,-0.65,0Z"
      ]}}
     }},
    {"data": {"name": "eText"}, "mark": {"type": "text", "fontSize": 10, "align": "right", "baseline": "middle", "color": "#1a1a1a"},
     "encoding": {"x": {"field": "x", "type": "quantitative"}, "y": {"field": "y", "type": "quantitative"}, "text": {"field": "t"}}},
    {"data": {"name": "eNote"}, "mark": {"type": "text", "fontSize": 10, "align": "left", "baseline": "middle", "color": "#1a1a1a"},
     "encoding": {"x": {"field": "x", "type": "quantitative"}, "y": {"field": "y", "type": "quantitative"}, "text": {"field": "t"}}}
   ]},
  {"title": {"text": "f", "dx": -56, "offset": -3},
   "width": 276, "height": 81,
   "layer": [
    {"data": {"name": "fRule"}, "mark": {"type": "rule", "color": "#444", "strokeWidth": 0.9, "strokeDash": [3,2]},
     "encoding": {"x": {"field": "x", "type": "quantitative", "scale": {"domain": [0,25], "nice": false, "zero": false}, "axis": {"values": [0,2.5,5,7.5,10,12.5,15,17.5,20,22.5,25], "labelExpr": "datum.value % 5 != 0 ? '' : datum.label", "tickSize": {"condition": {"test": "datum.value % 5 != 0", "value": 2}, "value": 4}, "title": "Cycle number", "titlePadding": 2}}}},
    {"data": {"name": "fBox"}, "mark": {"type": "rect", "color": "white"},
     "encoding": {"x": {"field": "x", "type": "quantitative"}, "x2": {"field": "x2"}, "y": {"field": "y", "type": "quantitative"}, "y2": {"field": "y2"}}},
    {"data": {"name": "f"}, "mark": {"type": "point", "filled": true, "size": 50, "opacity": 1},
     "encoding": {
      "x": {"field": "n", "type": "quantitative"},
      "y": {"field": "v", "type": "quantitative", "scale": {"domain": [50,150], "nice": false, "zero": false}, "axis": {"values": [50,75,100,125,150], "labelExpr": "datum.value % 50 != 0 ? '' : datum.label", "tickSize": {"condition": {"test": "datum.value % 50 != 0", "value": 2}, "value": 4}, "title": "Capacity/mAh g⁻¹"}},
      "color": {"field": "s", "type": "nominal", "scale": {"domain": ["G₁  2 M","G₄  1 M"], "range": ["#d40f1c","#2aa8e2"]}, "legend": {"title": null, "legendX": 2, "legendY": 51, "symbolSize": 50, "labelOffset": 5, "rowPadding": 7}},
      "shape": {"field": "s", "type": "nominal", "scale": {"domain": ["G₁  2 M","G₄  1 M"], "range": ["triangle-up","circle"]}}
     }},
    {"data": {"name": "fRate"}, "mark": {"type": "text", "fontSize": 10, "align": "center", "baseline": "middle", "color": "#1a1a1a"},
     "encoding": {"x": {"field": "x", "type": "quantitative"}, "y": {"field": "y", "type": "quantitative"}, "text": {"field": "t"}}},
    {"data": {"name": "fUnit"}, "mark": {"type": "text", "fontSize": 10, "align": "left", "baseline": "middle", "color": "#1a1a1a"},
     "encoding": {"x": {"field": "x", "type": "quantitative"}, "y": {"field": "y", "type": "quantitative"}, "text": {"field": "t"}}}
   ]}
 ], "spacing": 0}
],
"spacing": 10
}
